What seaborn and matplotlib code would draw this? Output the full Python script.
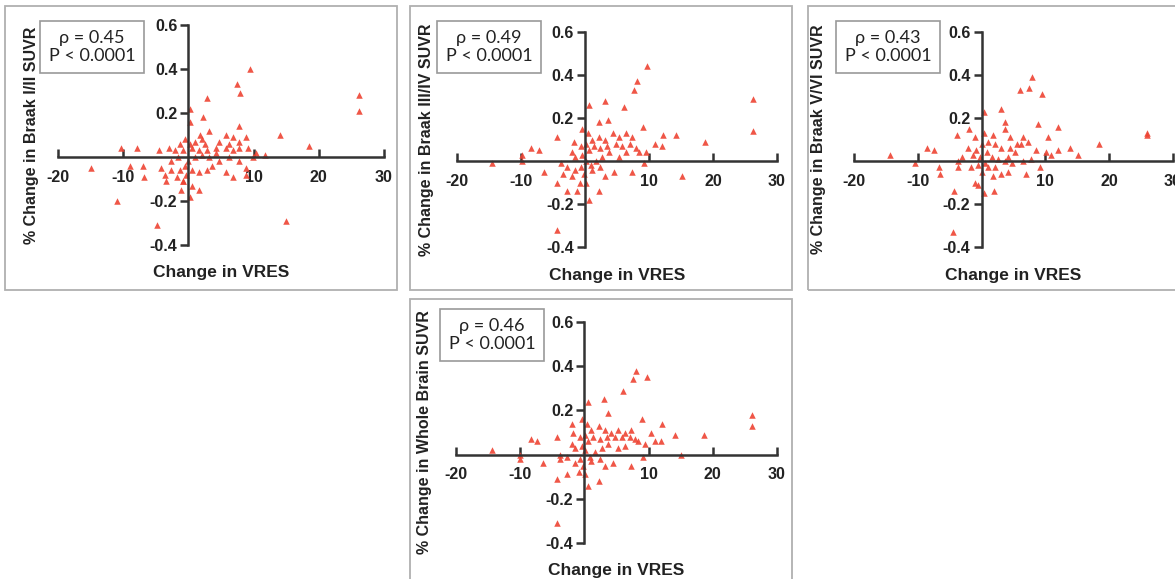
import matplotlib.pyplot as plt
from matplotlib.patches import Rectangle
import seaborn as sns
import pandas as pd

sns.set_theme(style="white")
plt.rcParams['font.family'] = ['Liberation Sans', 'DejaVu Sans']

W, H = 1175, 579

# --- data (change in VRES, % change in SUVR) ---
braak12_x = [9.4, 7.4, 7.9, 2.9, 26.2, 26.2, 0.2, 2.2, 0.2, 7.7, 14.0, 18.5, 8.9, 3.2, 1.8,
             -10.4, -7.9, -4.5, -14.9, -8.9, -6.9, -6.8, -10.9, -4.8, 15.0, 0.3, 1.7, -1.1,
             -0.9, -3.4, -3.6, -4.2, -2.6, 8.9, 6.8, 5.7, 10.4, 11.7, 9.9, 7.8, 6.3, 4.7, 5.7,
             6.8, 4.2, 2.6, 1.0, -0.5, -1.3, -2.1, 0.5, 1.6, 2.1, 1.0, 0.0, -0.5, -1.3, -0.3,
             0.5, 1.6, 2.9, 3.6, 4.7, 3.1, 4.2, 2.1, 0.3, -0.8, -1.6, -2.6, -1.8, -0.8, 0.5,
             -2.9, 6.8, 7.8, 9.1, 5.7, 6.3, 7.8, 8.9, 2.9]
braak12_y = [0.40, 0.33, 0.29, 0.27, 0.28, 0.21, 0.22, 0.18, 0.16, 0.14, 0.10, 0.05, 0.09, 0.12,
             0.10, 0.04, 0.04, 0.03, -0.05, -0.04, -0.04, -0.09, -0.20, -0.31, -0.29, -0.18,
             -0.15, -0.15, -0.11, -0.11, -0.08, -0.05, -0.02, -0.08, -0.09, -0.07, 0.02, 0.01,
             0.00, -0.02, 0.00, 0.07, 0.10, 0.09, 0.04, 0.06, 0.07, 0.08, 0.06, 0.03, 0.04, 0.03,
             0.01, 0.00, -0.02, -0.04, -0.06, -0.08, -0.06, -0.07, -0.06, -0.04, -0.02, 0.00,
             0.02, 0.08, 0.06, 0.03, 0.00, -0.06, -0.09, -0.11, -0.13, 0.04, 0.03, 0.04, 0.04,
             0.04, 0.06, 0.07, -0.05, 0.03]

braak34_x = [9.7, 8.2, 7.7, 26.3, 26.3, 3.1, 0.6, 6.1, 2.2, 3.6, 9.1, 14.2, 12.2, 18.8, 11.0,
             12.1, -4.3, -8.4, -7.2, -9.8, -14.5, -9.9, -6.4, -3.8, -3.5, -4.3, -2.8, -1.2, -0.8,
             0.6, 2.2, -4.3, 3.2, 4.5, 7.3, 9.2, 15.2, 9.5, 8.4, 7.4, 6.4, 5.3, 4.3, 3.2, 2.2,
             1.1, 0.1, -0.7, -1.7, -2.0, -1.5, -0.4, 0.6, 1.4, 2.4, 3.5, 4.8, 5.8, 7.1, 7.9, 0.1,
             0.9, 1.7, 2.7, 3.8, 5.3, 6.4, -0.7, -1.5, -0.2, 1.1, 2.4, -2.0, 0.1, -2.8, 0.4, -0.4]
braak34_y = [0.44, 0.37, 0.33, 0.29, 0.14, 0.28, 0.26, 0.25, 0.18, 0.19, 0.16, 0.12, 0.12, 0.09,
             0.08, 0.07, 0.11, 0.06, 0.05, 0.03, -0.01, 0.00, -0.05, -0.01, -0.06, -0.10, -0.14,
             -0.14, -0.10, -0.18, -0.14, -0.32, -0.07, -0.05, -0.05, -0.01, -0.07, 0.04, 0.04,
             0.11, 0.13, 0.11, 0.13, 0.10, 0.11, 0.10, 0.08, 0.07, 0.09, 0.04, 0.02, 0.03, 0.05,
             0.07, 0.06, 0.07, 0.08, 0.07, 0.08, 0.06, 0.00, -0.02, 0.00, 0.02, 0.04, 0.02, 0.04,
             -0.03, -0.04, -0.06, -0.04, -0.03, -0.07, -0.10, -0.03, 0.13, 0.15]

braak56_x = [7.9, 7.4, 6.0, 9.4, 26.0, 26.0, 0.4, 3.0, -1.9, -3.9, 3.6, 3.6, 8.8, 11.9, 10.4,
             18.4, 13.9, 15.1, 10.9, 11.9, -14.3, -8.6, -7.5, -10.4, -6.6, -6.5, -4.4, -4.5,
             -3.7, -3.7, -1.0, -0.5, 0.3, 1.9, 1.8, 3.1, 4.2, 7.0, 9.1, 7.8, 6.5, 5.2, 6.2, 7.3,
             6.5, 5.5, 4.4, 3.1, 2.1, 1.0, 0.0, -0.8, -1.3, -0.3, 0.8, 1.6, 2.6, 3.6, 4.7, 0.5,
             -0.5, -1.6, 0.0, 1.0, 2.1, -2.1, -1.0, 0.3, 1.8, 4.4, 8.6, 10.1, 4.2, -3.1]
braak56_y = [0.39, 0.34, 0.33, 0.31, 0.13, 0.12, 0.23, 0.24, 0.15, 0.12, 0.18, 0.15, 0.17, 0.16,
             0.11, 0.08, 0.06, 0.03, 0.03, 0.05, 0.03, 0.06, 0.05, -0.01, -0.03, -0.06, -0.14,
             -0.33, 0.00, -0.03, -0.10, -0.11, -0.15, -0.14, -0.07, -0.06, -0.05, -0.06, -0.03,
             0.01, 0.00, 0.04, 0.08, 0.09, 0.11, 0.08, 0.06, 0.06, 0.08, 0.09, 0.08, 0.05, 0.03,
             0.02, 0.04, 0.02, 0.01, 0.00, -0.01, -0.01, -0.02, -0.03, -0.05, -0.03, -0.03, 0.06,
             0.11, 0.13, 0.12, 0.11, 0.05, 0.04, 0.02, 0.02]

whole_x = [8.1, 7.6, 9.7, 6.0, 26.1, 26.1, 3.1, 0.6, 3.6, 9.0, 12.1, 14.1, 18.6, 10.4, 11.0, 11.9,
           -8.3, -7.4, -14.4, -10.1, -10.1, -6.4, -4.3, -3.8, -3.8, -4.3, -2.7, -0.9, 0.6, 2.2,
           -4.3, 3.2, 4.5, 7.2, 9.1, 15.1, 9.4, 8.4, 7.3, 6.3, 5.3, 4.2, 3.2, 2.2, 1.1, 0.1, -0.7,
           -1.7, -2.0, -1.4, -0.4, 0.6, 1.4, 2.4, 3.5, 4.8, 5.8, 7.1, 7.9, 0.1, 0.9, 1.7, 2.7, 3.7,
           5.3, 6.3, -0.7, -1.4, -0.2, 1.1, 2.4, 0.1, -2.7, 0.4, -0.4, -2.0]
whole_y = [0.38, 0.34, 0.35, 0.29, 0.18, 0.13, 0.25, 0.24, 0.19, 0.16, 0.14, 0.09, 0.09, 0.10,
           0.06, 0.06, 0.07, 0.06, 0.02, 0.00, -0.02, -0.04, 0.08, 0.00, -0.02, -0.11, -0.09,
           -0.08, -0.14, -0.12, -0.31, -0.05, -0.04, -0.05, -0.01, 0.00, 0.05, 0.06, 0.11, 0.10,
           0.11, 0.10, 0.11, 0.13, 0.11, 0.09, 0.08, 0.10, 0.05, 0.03, 0.04, 0.06, 0.08, 0.07,
           0.08, 0.08, 0.08, 0.08, 0.07, 0.02, -0.01, 0.01, 0.03, 0.05, 0.03, 0.04, -0.02, -0.04,
           -0.05, -0.03, -0.02, -0.09, -0.01, 0.14, 0.16, 0.14]

ylabels = ['% Change in Braak I/II SUVR', '% Change in Braak III/IV SUVR',
           '% Change in Braak V/VI SUVR', '% Change in Whole Brain SUVR']
rhos = [0.45, 0.49, 0.43, 0.46]
x_ticks = [-20, -10, 10, 20, 30]
y_ticks = [-0.4, -0.2, 0.2, 0.4, 0.6]

panels = [
    (braak12_x, braak12_y),
    (braak34_x, braak34_y),
    (braak56_x, braak56_y),
    (whole_x, whole_y),
]

# layout in pixels: axes (left, top, right, bottom), frame box, ylabel x, stats box center, xlabel y
axes_px = [(58, 25, 384, 245), (457, 32, 777, 247), (854, 32, 1173, 247), (456, 322, 777, 543)]
frame_px = [(5, 6, 397, 290), (410, 6, 792, 290), (808, 6, 1180, 290), (410, 299, 792, 585)]
ylab_x = [32, 427, 818, 424]
stat_c = [(92, 47), (489, 47), (888, 47), (492, 335)]
xlab_y = [273, 275, 275, 570]

fig = plt.figure(figsize=(W / 100, H / 100), dpi=100)
red = '#ee4433'
ink = '#222222'

for i, (xs, ys) in enumerate(panels):
    l, t, r, b = axes_px[i]
    ax = fig.add_axes([l / W, 1 - b / H, (r - l) / W, (b - t) / H])
    df = pd.DataFrame({'VRES': xs, 'SUVR': ys})
    sns.scatterplot(data=df, x='VRES', y='SUVR', ax=ax, marker='^', color=red,
                    s=22, linewidth=0, alpha=0.9, clip_on=False)
    ax.set_xlim(-20, 30)
    ax.set_ylim(-0.4, 0.6)
    ax.set_facecolor('none')
    for s in ['top', 'right']:
        ax.spines[s].set_visible(False)
    ax.spines['left'].set_position(('data', 0))
    ax.spines['bottom'].set_position(('data', 0))
    for s in ['left', 'bottom']:
        ax.spines[s].set_color('#333333')
        ax.spines[s].set_linewidth(1.8)
    ax.set_xticks(x_ticks)
    ax.set_yticks(y_ticks)
    ax.set_xticklabels([str(v) for v in x_ticks], fontweight='bold', fontsize=11.5, color=ink)
    ax.set_yticklabels([f'{v:.1f}' for v in y_ticks], fontweight='bold', fontsize=11.5, color=ink)
    ax.tick_params(axis='x', bottom=True, direction='in', length=6, width=1.8,
                   color='#333333', pad=9)
    ax.tick_params(axis='y', left=True, direction='out', length=6, width=1.8,
                   color='#333333', pad=2)
    ax.set_xlabel('')
    ax.set_ylabel('')
    ax.grid(False)

    fx0, fy0, fx1, fy1 = frame_px[i]
    fig.add_artist(Rectangle((fx0 / W, 1 - fy1 / H), (fx1 - fx0) / W, (fy1 - fy0) / H,
                             transform=fig.transFigure, fill=False, ec='#b0b0b0', lw=1.3))

    fig.text(ylab_x[i] / W, 1 - ((t + b) / 2) / H, ylabels[i], rotation=90,
             ha='center', va='center', fontsize=11.5, fontweight='bold', color=ink)
    fig.text(((l + r) / 2) / W, 1 - xlab_y[i] / H, 'Change in VRES',
             ha='center', va='center', fontsize=12.5, fontweight='bold', color=ink)
    cx, cy = stat_c[i]
    fig.text(cx / W, 1 - cy / H, f'ρ = {rhos[i]:.2f}\nP < 0.0001', ha='center', va='center',
             fontsize=13, family=['Lato', 'DejaVu Sans'], linespacing=1.2, color=ink,
             bbox=dict(boxstyle='square,pad=0.5', fc='white', ec='#999999', lw=1.2))

fig.savefig('out.png', dpi=100)
